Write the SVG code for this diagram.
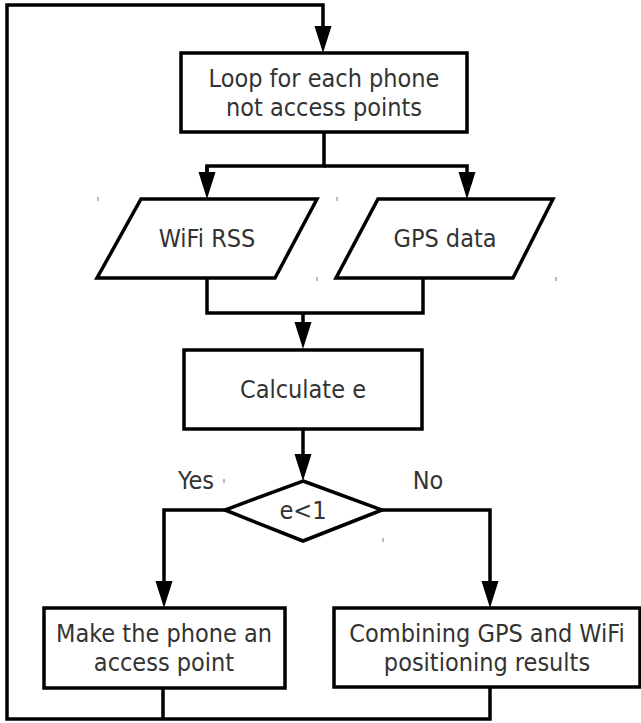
<svg xmlns="http://www.w3.org/2000/svg" width="641" height="723" viewBox="0 0 641 723">
  <style>
    .box { fill: #ffffff; stroke: #000000; stroke-width: 3.5; }
    .wire { fill: none; stroke: #000000; stroke-width: 3.5; }
    .arrow { marker-end: url(#head); }
    .label { font-family: "DejaVu Sans Condensed", "DejaVu Sans", sans-serif; font-size: 25px; fill: #333333; text-anchor: middle; }
    .tick { stroke: #777777; stroke-width: 1; }
  </style>
  <defs>
    <marker id="head" markerUnits="userSpaceOnUse" markerWidth="27" markerHeight="17" refX="0" refY="8.5" orient="auto" overflow="visible">
      <path d="M0,0 L27,8.5 L0,17 Z" fill="#000000"/>
    </marker>
  </defs>
  <rect width="641" height="723" fill="#ffffff"/>

  <g id="connectors">
    <path class="wire" d="M324,132 V166 H207 V172"/>
    <path class="wire arrow" d="M207,166 V172"/>
    <path class="wire arrow" d="M324,166 H467 V172"/>
    <path class="wire" d="M207,278 V313 H423 V278"/>
    <path class="wire arrow" d="M303,313 V322"/>
    <path class="wire arrow" d="M303,429 V454"/>
    <path class="wire arrow" d="M225,510 H164 V581"/>
    <path class="wire arrow" d="M382,510 H490 V581"/>
    <path class="wire" d="M163,688 V719"/>
    <path class="wire arrow" d="M490,687 V719 H7 V5 H323 V26"/>
  </g>

  <g id="loop">
    <rect class="box" x="181" y="53" width="286" height="79"/>
    <text class="label" x="324" y="87">Loop for each phone</text>
    <text class="label" x="324" y="116">not access points</text>
  </g>

  <g id="wifi-rss">
    <polygon class="box" points="141,199 317,199 275,278 97,278"/>
    <text class="label" x="207" y="247">WiFi RSS</text>
  </g>

  <g id="gps-data">
    <polygon class="box" points="378,199 553,199 513,278 336,278"/>
    <text class="label" x="445" y="247">GPS data</text>
  </g>

  <g id="calculate">
    <rect class="box" x="184" y="350" width="238" height="79"/>
    <text class="label" x="303" y="398">Calculate e</text>
  </g>

  <g id="decision">
    <polygon class="box" points="303,481 382,510 303,541 225,510"/>
    <text class="label" x="303" y="519">e&lt;1</text>
    <text class="label" x="196" y="489">Yes</text>
    <text class="label" x="428" y="489">No</text>
  </g>

  <g id="make-access-point">
    <rect class="box" x="44" y="608" width="241" height="80"/>
    <text class="label" x="164" y="642">Make the phone an</text>
    <text class="label" x="164" y="671">access point</text>
  </g>

  <g id="combine">
    <rect class="box" x="334" y="608" width="306" height="79"/>
    <text class="label" x="487" y="642">Combining GPS and WiFi</text>
    <text class="label" x="487" y="671">positioning results</text>
  </g>

  <!-- small corner marks left by the editor -->
  <g id="marks">
    <line class="tick" x1="98" y1="197" x2="98" y2="201"/>
    <line class="tick" x1="337" y1="197" x2="337" y2="201"/>
    <line class="tick" x1="317" y1="277" x2="317" y2="281"/>
    <line class="tick" x1="556" y1="277" x2="556" y2="281"/>
    <line class="tick" x1="224" y1="479" x2="224" y2="483"/>
    <line class="tick" x1="383" y1="538" x2="383" y2="542"/>
  </g>
</svg>
